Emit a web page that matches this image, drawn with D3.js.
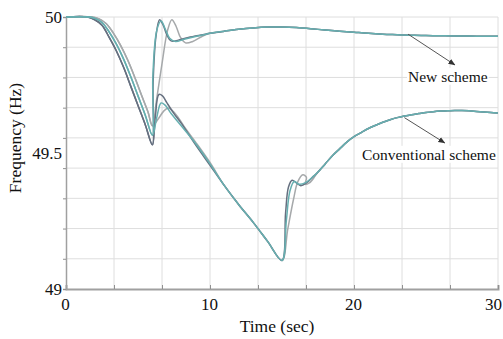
<!DOCTYPE html>
<html>
<head>
<meta charset="utf-8">
<script src="https://cdn.jsdelivr.net/npm/d3@7"></script>
<style>
  body { margin: 0; background: #fff; }
  text { font-family: "Liberation Serif", "Times New Roman", serif; fill: #111; }
</style>
</head>
<body>
<svg id="chart_plot" width="503" height="339"></svg>
<script>
// axis tick labels
const xTickLabels = [0, 10, 20, 30];
const yTickLabels = [49, 49.5, 50];

// frequency drop before the scheme acts, one per case
const descentA = [[0,50],[1.5,50],[2,49.99],[2.5,49.97],[3,49.925],[3.5,49.875],[4,49.815],[4.5,49.745],[5,49.675],[5.5,49.605],[6,49.53]];
const descentB = [[0,50],[1.6,50],[2,49.995],[2.5,49.98],[3,49.945],[3.5,49.9],[4,49.845],[4.5,49.78],[5,49.71],[5.5,49.64],[6,49.565]];
const descentC = [[0,50],[1.8,50],[2.3,49.993],[2.8,49.975],[3.3,49.94],[3.8,49.895],[4.3,49.84],[4.8,49.775],[5.3,49.705],[5.7,49.65],[6,49.6]];

// new scheme recovery
const newA = [[6.05,49.76],[6.25,49.93],[6.5,49.99],[6.75,49.97],[7,49.935],[7.3,49.912],[7.8,49.915],[8.5,49.925],[9.5,49.935]];
const newB = [[6.03,49.78],[6.3,49.95],[6.6,49.985],[6.9,49.955],[7.2,49.922],[7.6,49.91],[8.2,49.918],[9,49.928],[9.5,49.934]];
const newC = [[6.3,49.7],[6.7,49.84],[7.05,49.95],[7.35,49.99],[7.65,49.965],[7.95,49.925],[8.3,49.905],[8.8,49.91],[9.5,49.93]];
const newTail = [[10,49.94],[11,49.948],[12,49.955],[13,49.96],[14,49.963],[15,49.963],[16,49.961],[17,49.957],[18,49.952],[19,49.948],[20,49.944],[21,49.94],[22,49.937],[23,49.935],[24,49.933],[25,49.932],[26,49.931],[27,49.93],[28,49.93],[29,49.929],[30,49.929]];

// conventional scheme
const convA = [[6.2,49.63],[6.45,49.715],[6.7,49.71],[7,49.685],[7.5,49.645],[8,49.61],[9,49.53],[10,49.455]];
const convB = [[6.3,49.63],[6.6,49.684],[6.9,49.675],[7.3,49.645],[8,49.6],[9,49.535],[10,49.46]];
const convC = [[6.4,49.625],[6.8,49.655],[7.1,49.665],[7.4,49.655],[7.8,49.63],[8.3,49.59],[9,49.54],[10,49.465]];
const convDecline = [[11,49.38],[12,49.31],[13,49.245],[14,49.175],[15,49.105]];
const recA = [[15.25,49.28],[15.45,49.375],[15.7,49.4],[16,49.39],[16.3,49.38],[16.7,49.39],[17.2,49.415]];
const recB = [[15.3,49.25],[15.55,49.36],[15.85,49.395],[16.2,49.385],[16.6,49.39],[17.2,49.415]];
const recC = [[15.4,49.22],[15.8,49.33],[16.1,49.395],[16.45,49.42],[16.7,49.41],[16.6,49.385],[16.9,49.39],[17.3,49.415]];
const convTail = [[17.5,49.43],[18,49.46],[18.5,49.49],[19,49.515],[19.5,49.54],[20,49.56],[20.5,49.575],[21,49.59],[21.5,49.602],[22,49.613],[22.5,49.622],[23,49.63],[23.5,49.636],[24,49.641],[24.5,49.645],[25,49.649],[25.5,49.652],[26,49.654],[26.5,49.655],[27,49.656],[27.5,49.656],[28,49.655],[28.5,49.653],[29,49.651],[29.5,49.649],[30,49.647]];

// annotations: arrow start, arrow end, label position
const notes = [
  { text: "New scheme", from: [23.75, 49.937], to: [27.0, 49.824], at: [23.75, 49.762] },
  { text: "Conventional scheme", from: [23.5, 49.63], to: [26.3, 49.537], at: [20.55, 49.475] }
];

const colors = { A: "#667080", B: "#66afb0", C: "#a6a9ab" };

const series = [
  { color: colors.C, values: descentC.concat(convC, convDecline, recC, convTail) },
  { color: colors.C, values: descentC.concat(newC, newTail) },
  { color: colors.A, values: descentA.concat(convA, convDecline, recA, convTail) },
  { color: colors.A, values: descentA.concat(newA, newTail) },
  { color: colors.B, values: descentB.concat(convB, convDecline, recB, convTail) },
  { color: colors.B, values: descentB.concat(newB, newTail) }
];

const svg = d3.select("svg#chart_plot");

//chart plot area
const area = { left: 66, right: 498, top: 17, bottom: 289 };

//scale functions
const xScale = d3.scaleLinear().domain([0, 30]).range([area.left, area.right]);
const yScale = d3.scaleLinear().domain([49, 50]).range([area.bottom, area.top]);

const gridX = d3.range(0, 10).map(i => (i * 30) / 9);
const gridY = d3.range(0, 10).map(i => 49 + i / 9);

//grid
svg.append("g")
  .selectAll("line")
  .data(gridX.slice(1))
  .join("line")
  .attr("x1", d => xScale(d)).attr("x2", d => xScale(d))
  .attr("y1", area.top).attr("y2", area.bottom)
  .attr("stroke", "#dedede").attr("stroke-width", 1);

svg.append("g")
  .selectAll("line")
  .data(gridY.slice(1))
  .join("line")
  .attr("x1", area.left).attr("x2", area.right)
  .attr("y1", d => yScale(d)).attr("y2", d => yScale(d))
  .attr("stroke", "#dedede").attr("stroke-width", 1);

//tick marks
svg.append("g")
  .attr("transform", `translate(0, ${area.bottom})`)
  .call(d3.axisBottom(xScale).tickValues(gridX).tickSize(-4).tickFormat(""))
  .call(g => g.select(".domain").attr("stroke", "#a0a0a0").attr("stroke-width", 2))
  .call(g => g.selectAll(".tick line").attr("stroke", "#909090"));

svg.append("g")
  .attr("transform", `translate(${area.left}, 0)`)
  .call(d3.axisLeft(yScale).tickValues(gridY).tickSize(3).tickFormat(""))
  .call(g => g.select(".domain").attr("stroke", "#a0a0a0").attr("stroke-width", 1.5))
  .call(g => g.selectAll(".tick line").attr("stroke", "#909090"));

//tick labels
svg.append("g")
  .attr("transform", `translate(-1, ${area.bottom})`)
  .call(d3.axisBottom(xScale).tickValues(xTickLabels).tickSize(0).tickPadding(9))
  .call(g => g.select(".domain").remove())
  .call(g => g.selectAll("text").attr("font-size", 17).attr("font-family", "Liberation Serif").attr("fill", "#111"))
  .call(g => g.selectAll("text").filter(d => d === 30).attr("dx", -4));

svg.append("g")
  .attr("transform", `translate(${area.left}, 0)`)
  .call(d3.axisLeft(yScale).tickValues(yTickLabels).tickSize(0).tickPadding(4).tickFormat(d3.format("")))
  .call(g => g.select(".domain").remove())
  .call(g => g.selectAll("text").attr("font-size", 17).attr("font-family", "Liberation Serif").attr("fill", "#111"));

//line generator
const lineGenerator = d3.line()
  .x(d => xScale(d[0]))
  .y(d => yScale(d[1]))
  .curve(d3.curveCatmullRom.alpha(0.5));

series.map(s => {
  svg.append("path")
    .attr("fill", "none")
    .attr("stroke", s.color)
    .attr("stroke-width", 1.5)
    .attr("d", lineGenerator(s.values));
});

//annotations
svg.append("defs").append("marker")
  .attr("id", "arrow")
  .attr("viewBox", "0 0 10 10")
  .attr("refX", 9).attr("refY", 5)
  .attr("markerWidth", 7).attr("markerHeight", 7)
  .attr("orient", "auto")
  .append("path")
  .attr("d", "M0,1 L10,5 L0,9 Z")
  .attr("fill", "#333");

notes.map(n => {
  const g = svg.append("g");
  const label = g.append("text")
    .attr("x", xScale(n.at[0]))
    .attr("y", yScale(n.at[1]))
    .attr("font-size", 15.5)
    .text(n.text);
  const box = label.node().getBBox();
  g.insert("rect", "text")
    .attr("x", box.x - 1).attr("y", box.y)
    .attr("width", box.width + 2).attr("height", box.height)
    .attr("fill", "#fff");
  g.append("line")
    .attr("x1", xScale(n.from[0])).attr("y1", yScale(n.from[1]))
    .attr("x2", xScale(n.to[0])).attr("y2", yScale(n.to[1]))
    .attr("stroke", "#555").attr("stroke-width", 1)
    .attr("marker-end", "url(#arrow)");
});

//axis titles
svg.append("text")
  .attr("x", 277).attr("y", 332)
  .attr("text-anchor", "middle")
  .attr("font-size", 17.5)
  .text("Time (sec)");

svg.append("text")
  .attr("transform", "translate(21, 138) rotate(-90)")
  .attr("text-anchor", "middle")
  .attr("font-size", 17.5)
  .text("Frequency (Hz)");
</script>
</body>
</html>
